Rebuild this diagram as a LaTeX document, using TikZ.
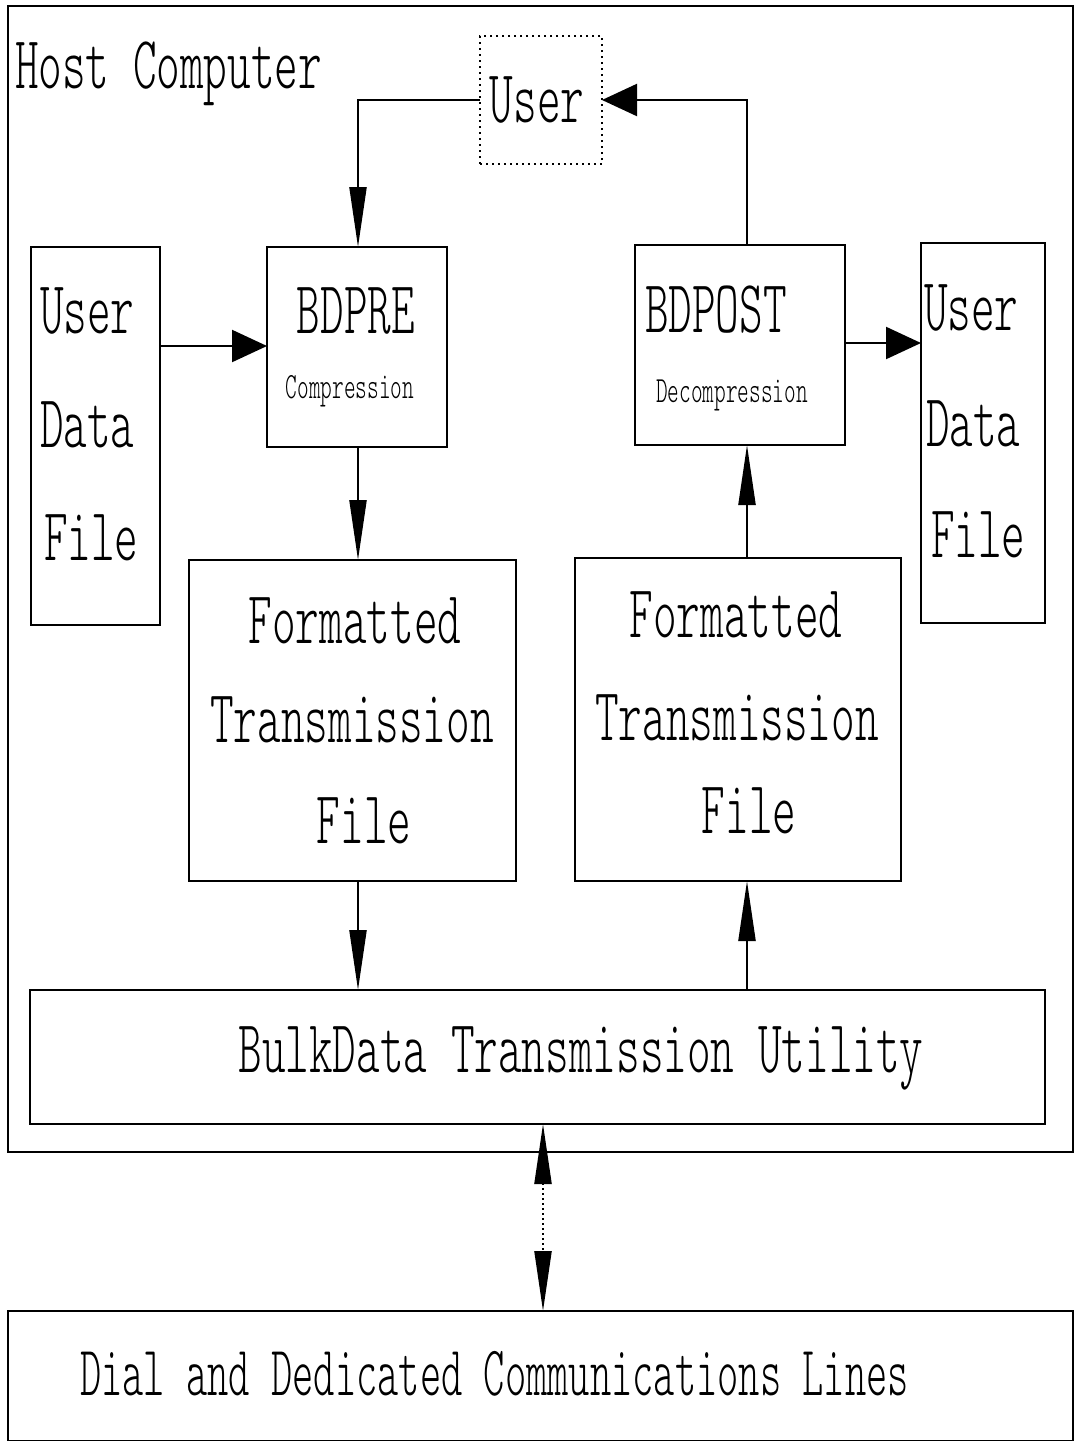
\documentclass[tikz,border=0pt]{standalone}
\usepackage{fontspec}
\usetikzlibrary{arrows.meta}
\newfontfamily\plotfont[FakeStretch=0.6]{lmmonolt10-regular.otf}
\newfontfamily\plotfontn[FakeStretch=0.57]{lmmonolt10-regular.otf}
\begin{document}
\begin{tikzpicture}[x=1pt,y=-1pt,
  box/.style={draw,line width=2pt,inner sep=0pt,outer sep=0pt,anchor=north west},
  txt/.style={inner sep=0pt,outer sep=0pt,anchor=base,font=\plotfont\fontsize{75}{75}\selectfont},
  txtw/.style={txt,anchor=base west},
  small/.style={inner sep=0pt,outer sep=0pt,anchor=base,font=\plotfont\fontsize{37}{37}\selectfont},
  conn/.style={line width=2.2pt},
  varrow/.style={conn,-{Triangle[length=60pt,width=17pt]}},
  harrow/.style={conn,-{Triangle[length=35pt,width=32pt]}},
  dotbox/.style={box,dash pattern=on 2pt off 4pt}]
\useasboundingbox (0,0) rectangle (1075,1441);
\fill[white] (0,0) rectangle (1075,1441);
% outer host box
\node[box,minimum width=1065pt,minimum height=1146pt] (host) at (8,6) {};
\node[txtw] (hostlbl) at (15,88) {Host Computer};
% user
\node[dotbox,minimum width=122pt,minimum height=128pt] (user) at (480,36) {};
\node[txt] (usertxt) at (537,122) {User};
% BDPRE
\node[box,minimum width=180pt,minimum height=200pt] (bdpre) at (267,247) {};
\node[txt] (bdpretxt) at (356,333) {BDPRE};
\node[small] (comp) at (350,398) {Compression};
% BDPOST
\node[box,minimum width=210pt,minimum height=200pt] (bdpost) at (635,245) {};
\node[txtw] (bdposttxt) at (645,332) {BDPOST};
\node[small] (decomp) at (732,402) {Decompression};
% user data files
\node[box,minimum width=129pt,minimum height=378pt] (udfL) at (31,247) {};
\node[txtw] (udfL1) at (40,333) {User};
\node[txtw] (udfL2) at (40,447) {Data};
\node[txtw] (udfL3) at (44,560) {File};
\node[box,minimum width=124pt,minimum height=380pt] (udfR) at (921,243) {};
\node[txtw] (udfR1) at (924,330) {User};
\node[txtw] (udfR2) at (926,446) {Data};
\node[txtw] (udfR3) at (931,557) {File};
% formatted transmission files
\node[box,minimum width=327pt,minimum height=321pt] (ftfL) at (189,560) {};
\node[txt] (ftfL1) at (355,643) {Formatted};
\node[txt] (ftfL2) at (352,742) {Transmission};
\node[txt] (ftfL3) at (364,843) {File};
\node[box,minimum width=326pt,minimum height=323pt] (ftfR) at (575,558) {};
\node[txt] (ftfR1) at (736,637) {Formatted};
\node[txt] (ftfR2) at (737,740) {Transmission};
\node[txt] (ftfR3) at (749,833) {File};
% bulk data
\node[box,minimum width=1015pt,minimum height=134pt] (bulk) at (30,990) {};
\node[txt] (bulktxt) at (581,1072) {BulkData Transmission Utility};
% dial
\node[box,minimum width=1065pt,minimum height=130pt] (dial) at (8,1311) {};
\node[inner sep=0pt,anchor=base west,font=\plotfontn\fontsize{71}{71}\selectfont] (dialtxt) at (80,1395) {Dial and Dedicated Communications Lines};
% helper coordinates
\coordinate (cL) at (358,0);
\coordinate (cR) at (747,0);
\coordinate (cD) at (543,0);
\coordinate (yL) at (0,346);
\coordinate (yR) at (0,343);
% connectors
\draw[varrow] (user.west) -| (bdpre.north -| cL);
\draw[harrow] (bdpost.north -| cR) |- (user.east);
\draw[harrow] (udfL.east |- yL) -- (bdpre.west |- yL);
\draw[harrow] (bdpost.east |- yR) -- (udfR.west |- yR);
\draw[varrow] (bdpre.south -| cL) -- (ftfL.north -| cL);
\draw[varrow] (ftfR.north -| cR) -- (bdpost.south -| cR);
\draw[varrow] (ftfL.south -| cL) -- (bulk.north -| cL);
\draw[varrow] (bulk.north -| cR) -- (ftfR.south -| cR);
\draw[line width=2.2pt,dash pattern=on 2pt off 3pt,{Triangle[length=60pt,width=17pt]}-{Triangle[length=60pt,width=17pt]}] (bulk.south -| cD) -- (dial.north -| cD);
\end{tikzpicture}
\end{document}
